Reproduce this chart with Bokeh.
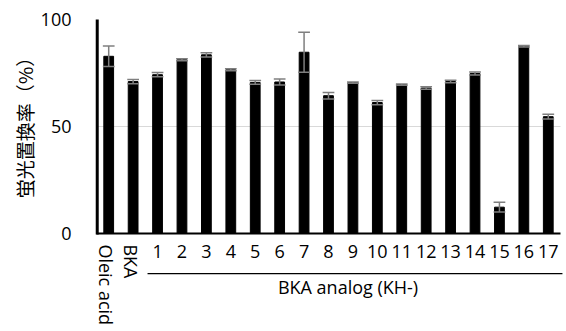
import math
from bokeh.plotting import figure
from bokeh.models import Range1d, Label
from bokeh.embed import file_html
from bokeh.resources import INLINE

# ---- data ----
categories = ["Oleic acid", "BKA", "1", "2", "3", "4", "5", "6", "7", "8", "9",
              "10", "11", "12", "13", "14", "15", "16", "17"]
values = [82.8, 71.0, 74.2, 81.2, 83.5, 76.5, 70.6, 70.8, 84.7, 64.4, 70.5,
          61.2, 69.6, 68.0, 71.0, 74.8, 12.3, 87.5, 54.6]
errors = [4.8, 1.0, 1.0, 0.5, 1.0, 0.5, 0.9, 1.4, 9.4, 1.5, 0.3,
          1.0, 0.3, 0.6, 0.6, 0.7, 2.3, 0.4, 1.1]
y_ticks = [0, 50, 100]
grid_ticks = [50]
group_label = "BKA analog (KH-)"
group_members = categories[2:]
y_title = "蛍光置換率（%）"

LATIN = "Open Sans"
CJK = "Noto Sans CJK JP"

n = len(categories)
xs = list(range(n))
lo = [v - e for v, e in zip(values, errors)]
hi = [v + e for v, e in zip(values, errors)]

# the plot frame spans the whole canvas; axes are drawn as glyphs on the same scales
p = figure(width=566, height=331, output_backend="svg", toolbar_location=None,
           x_range=Range1d(-4.431, n - 0.5 + 0.246), y_range=Range1d(-45.79, 108.88),
           x_axis_location=None, y_axis_location=None,
           min_border=0, min_border_left=0, min_border_right=0,
           min_border_top=0, min_border_bottom=0)
p.outline_line_color = None
p.background_fill_color = "white"
p.border_fill_color = "white"
p.grid.visible = False

x_lo, x_hi = -0.5, n - 0.5

# gridline
for g in grid_ticks:
    p.segment(x0=[x_lo], y0=[g], x1=[x_hi], y1=[g], line_color="#d9d9d9", line_width=1)

# bars
p.vbar(x=xs, top=values, bottom=0, width=0.4, fill_color="black", line_color="black")

# error bars
err_color = "#7f7f7f"
p.segment(x0=xs, y0=lo, x1=xs, y1=hi, line_color=err_color, line_width=1.5)
cap = 0.24
p.segment(x0=[x - cap for x in xs], y0=hi, x1=[x + cap for x in xs], y1=hi,
          line_color=err_color, line_width=1.5)
p.segment(x0=[x - cap for x in xs], y0=lo, x1=[x + cap for x in xs], y1=lo,
          line_color=err_color, line_width=1.5)

# axis lines
p.segment(x0=[x_lo], y0=[0], x1=[x_hi], y1=[0], line_color="black", line_width=2)
p.segment(x0=[x_lo + 0.03], y0=[-0.5], x1=[x_lo + 0.03], y1=[max(y_ticks)],
          line_color="black", line_width=3)

# y tick labels
for t in y_ticks:
    p.add_layout(Label(x=-1.524, y=t, text=str(t), text_align="right",
                       text_baseline="middle", text_font=LATIN,
                       text_font_size="18px", text_color="black"))

# y title
p.add_layout(Label(x=-3.448, y=51.6, text=y_title, angle=math.pi / 2,
                   angle_units="rad", text_align="center", text_baseline="middle",
                   text_font=CJK, text_font_size="19px", text_color="black"))

# category labels
for i, cat in enumerate(categories):
    if cat in group_members:
        p.add_layout(Label(x=i, y=-8.3, text=cat, text_align="center",
                           text_baseline="middle", text_font=LATIN,
                           text_font_size="18px", text_color="black"))
    else:
        p.add_layout(Label(x=i - 0.1, y=-5.1, text=cat, angle=-math.pi / 2,
                           angle_units="rad", text_align="left",
                           text_baseline="middle", text_font=LATIN,
                           text_font_size="18px", text_color="black"))

# group bracket line and label
first = categories.index(group_members[0])
last = categories.index(group_members[-1])
p.segment(x0=[first - 0.41], y0=[-18.7], x1=[last + 0.58], y1=[-18.7],
          line_color="black", line_width=1.2)
p.add_layout(Label(x=(first + last) / 2 - 0.2, y=-25.0, text=group_label,
                   text_align="center", text_baseline="middle", text_font=LATIN,
                   text_font_size="18px", text_color="black"))

open("out.html", "w").write(file_html(p, INLINE))
